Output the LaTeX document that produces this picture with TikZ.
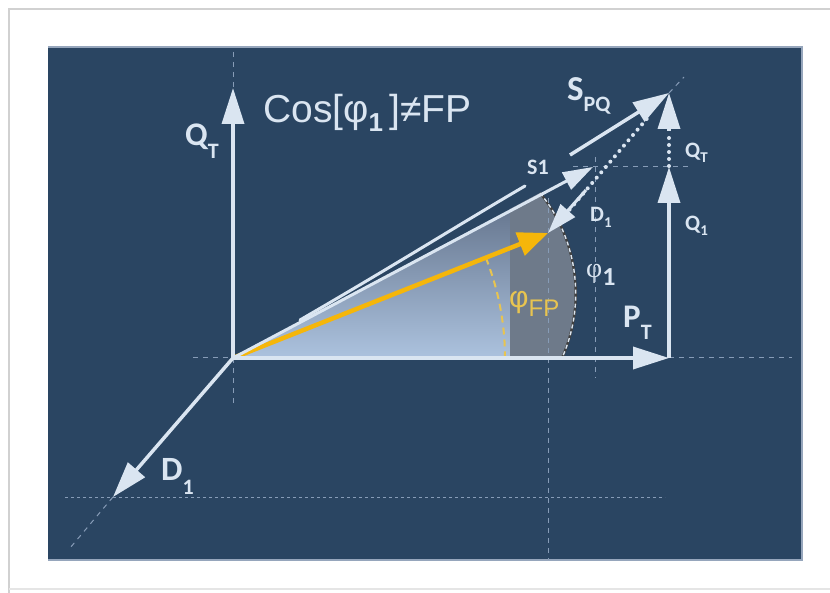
\documentclass[tikz,border=0pt]{standalone}
\usepackage{fontspec}
\setmainfont{Carlito}
\newfontfamily\arialf{Liberation Sans}
\newfontfamily\timesf{Liberation Serif}
\usetikzlibrary{arrows.meta}
\definecolor{panel}{RGB}{42,69,98}
\definecolor{pborder}{RGB}{150,166,188}
\definecolor{lc}{RGB}{218,229,241}
\definecolor{guide}{RGB}{135,156,183}
\definecolor{yel}{RGB}{245,182,10}
\definecolor{ylab}{RGB}{232,196,80}
\definecolor{conetop}{RGB}{96,112,136}
\definecolor{conebot}{RGB}{172,194,222}
\definecolor{conegray}{RGB}{110,122,138}
\newcommand{\sbs}[3]{\raisebox{-#1}{\fontsize{#2}{#2}\selectfont #3}}
\tikzset{
  vec/.style={draw=lc, line width=3.5pt, -{Triangle[length=36pt,width=22pt]}},
  vecsm/.style={draw=lc, line width=3pt, -{Triangle[length=30pt,width=19pt]}},
  guideline/.style={draw=guide, line width=1pt, dash pattern=on 5pt off 5pt},
  dotline/.style={draw=lc, line width=4pt, line cap=round, dash pattern=on 0pt off 7pt},
  biglab/.style={text=lc, anchor=base west, inner sep=0pt, font=\bfseries\fontsize{33}{33}\selectfont},
  smlab/.style={text=lc, anchor=base west, inner sep=0pt, font=\bfseries\fontsize{22}{22}\selectfont}
}
\begin{document}
\begin{tikzpicture}[x=1pt,y=-1pt]
\useasboundingbox (0,0) rectangle (830,593);
\fill[white] (0,0) rectangle (830,593);
\draw[black!18, line width=1.5pt] (9,593) -- (9,9) -- (830,9);
\draw[black!10, line width=1.5pt] (9,589) -- (830,589);
\fill[panel] (48,47) rectangle (802,560);
\draw[pborder, line width=1.5pt] (48,47) -- (802,47) -- (802,560) -- (48,560);
% points
\coordinate (O) at (233,358);
\coordinate (E) at (548,233);
\coordinate (S1) at (593,167);
\coordinate (SPQ) at (669,93);
\coordinate (C) at (669,358);
\coordinate (Q1) at (669,167);
\coordinate (QTb) at (669,131);
\coordinate (QT) at (233,88);
\coordinate (D1) at (113,497);
\coordinate (U) at (540,193);
\coordinate (B) at (562,358);
\coordinate (G) at (510,209);
\coordinate (Gb) at (510,358);
% cone
\shade[top color=conetop, bottom color=conebot] (O) -- (U) .. controls (575,235) and (588,300) .. (B) -- cycle;
\fill[conegray] (G) -- (U) .. controls (575,235) and (588,300) .. (B) -- (Gb) -- cycle;
\draw[black!75, line width=2.4pt] (U) .. controls (575,235) and (588,300) .. (B);
\draw[lc, line width=1.4pt, dash pattern=on 4pt off 3pt] (U) .. controls (575,235) and (588,300) .. (B);
% guides
\draw[guideline] (233,52) -- (QT);
\draw[guideline] (O) -- (233,405);
\draw[guideline] (193,358) -- (O);
\draw[guideline] (C) -- (792,358);
\draw[guideline] (548,198) -- (548,560);
\draw[guideline] (595,157) -- (595,378);
\draw[guideline] (573,167) -- (688,167);
\draw[guide, line width=1pt, dash pattern=on 3pt off 3pt] (65,497) -- (665,497);
\draw[guideline] (D1) -- (70,548);
\draw[guideline] (SPQ) -- (684,77);
% yellow
\draw[ylab, line width=2pt, dash pattern=on 7pt off 5pt] (O) ++(-21.6:272) arc[start angle=-21.6, end angle=0, radius=272];
\draw[yel, line width=4.5pt, -{Triangle[length=30pt,width=24pt]}] (O) -- (E);
% vectors
\draw[vec] (O) -- (QT);
\draw[vec] (O) -- (C);
\draw[vec] (C) -- (Q1);
\draw[dotline] (669,166) -- (QTb);
\draw[vec] (QTb) -- (SPQ);
\draw[vec] (O) -- (D1);
\draw[vecsm] (O) -- (S1);
\draw[lc, line width=3pt, line cap=round] (300,320) .. controls (400,262) and (460,224) .. (525,186);
\draw[vec] (570,155) -- (SPQ);
\draw[dotline] (565,215) -- (650,115);
\draw[vecsm] (586,190) -- (E);
% labels
\node[text=lc, anchor=base west, inner sep=0pt, font=\arialf\fontsize{39}{39}\selectfont] (cos) at (263,123) {Cos[φ\sbs{9pt}{26}{\bfseries 1}\,]≠FP};
\node[biglab] (lQT) at (185,146) {Q\sbs{13pt}{22}{T}};
\node[biglab, font=\bfseries\fontsize{35}{35}\selectfont] (lSPQ) at (567,101) {S\sbs{11pt}{22}{PQ}};
\node[smlab] (lS1) at (527,175) {S1};
\node[smlab] (lD1u) at (590,222) {D\sbs{6pt}{15}{1}};
\node[smlab] (lQTs) at (685,158) {Q\sbs{5pt}{15}{T}};
\node[smlab] (lQ1) at (685,231) {Q\sbs{5pt}{15}{1}};
\node[text=lc, anchor=base west, inner sep=0pt] (lphi1) at (586,278) {\timesf\fontsize{28}{28}\selectfont φ\sbs{8pt}{26}{\bfseries\rmfamily 1}};
\node[text=ylab, anchor=base west, inner sep=0pt, font=\arialf\fontsize{30}{30}\selectfont] (lphiFP) at (509,308) {φ\sbs{9pt}{24}{FP}};
\node[biglab] (lPT) at (623,328) {P\sbs{12pt}{22}{T}};
\node[biglab, font=\bfseries\fontsize{34}{34}\selectfont] (lD1) at (161,480) {D\sbs{14pt}{22}{1}};
\end{tikzpicture}
\end{document}
